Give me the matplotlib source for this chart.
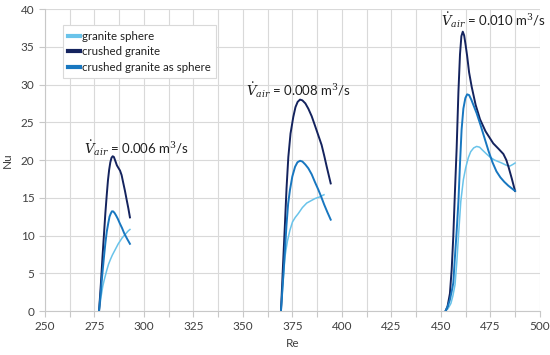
import numpy as np
import matplotlib
matplotlib.use("Agg")
import matplotlib.pyplot as plt

plt.rcParams['font.family'] = ['Lato', 'DejaVu Sans']
plt.rcParams['mathtext.fontset'] = 'dejavuserif'

# --- V_air = 0.006 m3/s
re1_cg = [277.3, 278.2, 279.0, 279.8, 280.5, 281.2, 281.8, 282.4, 283.0, 283.6, 284.2, 284.8,
          285.5, 286.3, 287.2, 287.9, 288.7, 289.5, 290.4, 291.2, 292.1, 292.9]
nu1_cg = [0.0, 3.5, 7.0, 10.2, 13.0, 15.4, 17.3, 18.7, 19.7, 20.3, 20.5, 20.4,
          19.9, 19.3, 18.9, 18.6, 18.0, 17.0, 15.9, 14.8, 13.6, 12.4]
re1_cgs = [277.3, 278.2, 279.0, 279.8, 280.5, 281.2, 282.0, 282.6, 283.2, 283.8, 284.4, 285.1,
           285.8, 286.8, 287.8, 288.9, 290.0, 291.4, 292.9]
nu1_cgs = [0.0, 2.6, 5.0, 7.2, 9.0, 10.5, 11.7, 12.5, 12.9, 13.2, 13.2, 13.0,
           12.7, 12.2, 11.6, 11.0, 10.3, 9.6, 8.9]
re1_gs = [277.3, 277.9, 278.5, 279.2, 280.0, 281.2, 282.1, 283.0, 284.0, 285.0, 286.0, 287.0,
          288.0, 289.0, 290.0, 291.0, 292.0, 292.9]
nu1_gs = [0.0, 1.1, 2.2, 3.3, 4.2, 5.4, 6.2, 6.8, 7.4, 7.9, 8.4, 8.9,
          9.3, 9.7, 10.0, 10.3, 10.6, 10.8]

# --- V_air = 0.008 m3/s
re2_cg = [369.2, 370.2, 371.2, 372.0, 372.9, 374.0, 375.4, 376.5, 377.6, 378.8, 380.0, 381.5,
          383.0, 384.7, 386.3, 388.0, 389.7, 391.0, 392.3, 393.3, 394.3]
nu2_cg = [0.1, 6.0, 11.6, 16.3, 20.4, 23.5, 25.7, 27.0, 27.7, 28.0, 27.9, 27.5,
          26.8, 25.8, 24.6, 23.3, 22.0, 20.6, 19.1, 18.0, 16.9]
re2_cgs = [369.2, 370.2, 371.2, 372.0, 372.8, 373.7, 374.9, 376.3, 377.5, 378.8, 380.0, 381.5,
           383.0, 384.7, 386.3, 388.0, 389.7, 391.0, 392.6, 394.3]
nu2_cgs = [0.1, 4.0, 8.1, 11.5, 14.2, 16.0, 17.8, 19.1, 19.7, 19.9, 19.8, 19.4,
           18.9, 18.1, 17.1, 16.1, 15.0, 14.1, 13.1, 12.1]
re2_gs = [369.2, 370.2, 371.2, 372.4, 373.7, 375.0, 376.4, 377.9, 380.0, 382.2, 384.3, 386.4,
          388.6, 390.9]
nu2_gs = [0.1, 3.8, 7.2, 9.2, 10.7, 11.8, 12.4, 12.9, 13.7, 14.3, 14.6, 14.9,
          15.1, 15.4]

# --- V_air = 0.010 m3/s
re3_cg = [452.3, 453.3, 454.5, 455.4, 456.2, 457.0, 457.9, 458.8, 459.6, 460.3, 461.0, 461.7,
          462.4, 463.2, 464.2, 465.5, 467.5, 469.7, 472.5, 476.4, 479.0, 481.5, 483.0, 484.2,
          485.8, 487.4]
nu3_cg = [0.0, 0.6, 2.3, 5.5, 9.8, 15.5, 21.5, 29.0, 34.0, 36.4, 37.0, 36.5,
          35.3, 33.8, 31.6, 29.7, 27.3, 25.4, 23.8, 22.2, 21.5, 20.8, 20.0, 19.0,
          17.5, 15.9]
re3_cgs = [452.3, 453.5, 454.5, 455.4, 456.2, 457.0, 457.9, 458.8, 459.6, 460.4, 461.3, 462.3,
           463.2, 464.2, 465.3, 466.5, 468.0, 470.0, 472.0, 474.0, 476.0, 478.0, 480.0, 482.0,
           484.0, 487.4]
nu3_cgs = [0.0, 0.7, 1.5, 2.6, 3.7, 7.0, 10.5, 14.5, 19.5, 24.0, 26.8, 28.2,
           28.7, 28.6, 28.0, 27.2, 26.2, 24.6, 22.9, 21.2, 19.7, 18.5, 17.7, 17.1,
           16.6, 15.9]
re3_gs = [452.3, 453.5, 455.0, 456.0, 457.1, 458.0, 458.8, 460.0, 461.3, 462.5, 463.8, 465.0,
          466.5, 468.0, 469.5, 471.0, 473.0, 474.7, 477.0, 480.7, 483.0, 484.8, 486.2, 487.4]
nu3_gs = [0.0, 0.3, 1.0, 2.0, 3.5, 6.5, 9.8, 14.5, 17.4, 19.0, 20.3, 21.1,
          21.6, 21.8, 21.7, 21.3, 20.8, 20.4, 20.0, 19.6, 19.3, 19.2, 19.4, 19.6]

c_gs = '#69C3EA'
c_cg = '#14235E'
c_cgs = '#1877C0'

fig = plt.figure(figsize=(5.5, 3.55), dpi=100)
ax = fig.add_axes([0.0818, 0.1239, 0.90, 0.8507])

for i, (re_gs, nu_gs, re_cg, nu_cg, re_cgs, nu_cgs) in enumerate([
        (re1_gs, nu1_gs, re1_cg, nu1_cg, re1_cgs, nu1_cgs),
        (re2_gs, nu2_gs, re2_cg, nu2_cg, re2_cgs, nu2_cgs),
        (re3_gs, nu3_gs, re3_cg, nu3_cg, re3_cgs, nu3_cgs)]):
    ax.plot(re_gs, nu_gs, color=c_gs, lw=1.1, label='granite sphere' if i == 0 else None, zorder=3)
    ax.plot(re_cg, nu_cg, color=c_cg, lw=1.4, label='crushed granite' if i == 0 else None, zorder=4)
    ax.plot(re_cgs, nu_cgs, color=c_cgs, lw=1.4, label='crushed granite as sphere' if i == 0 else None, zorder=5)

ax.text(269.7, 21.5, r'$\dot{V}_{air}$ = 0.006 m$^3$/s', ha='left', va='center', fontsize=9.5, color='#202020')
ax.text(351.5, 29.3, r'$\dot{V}_{air}$ = 0.008 m$^3$/s', ha='left', va='center', fontsize=9.5, color='#202020')
ax.text(450.0, 38.5, r'$\dot{V}_{air}$ = 0.010 m$^3$/s', ha='left', va='center', fontsize=9.5, color='#202020')

ax.set_xlim(250, 500)
ax.set_ylim(0, 40)
ax.set_xticks(np.arange(250, 501, 25))
ax.set_xticks(np.arange(250, 501, 12.5), minor=True)
ax.set_yticks(np.arange(0, 41, 5))
ax.grid(True, which='both', color='#D9D9D9', lw=0.8)
ax.set_axisbelow(True)
for s in ['top', 'right']:
    ax.spines[s].set_visible(False)
for s in ['left', 'bottom']:
    ax.spines[s].set_color('#C8C8C8')
    ax.spines[s].set_linewidth(0.8)
ax.tick_params(which='both', colors='#C8C8C8', labelcolor='#404040', labelsize=8.5, length=4, width=0.8)
ax.set_xlabel('Re', fontsize=8.5, color='#404040', labelpad=4)
ax.set_ylabel('Nu', fontsize=8.5, color='#404040', labelpad=6)

leg = ax.legend(loc='upper left', bbox_to_anchor=(0.025, 0.965), fontsize=8.3, handlelength=1.0,
                handletextpad=0.2, borderpad=0.45, labelspacing=0.4, fancybox=False, framealpha=1)
leg.get_frame().set_edgecolor('#D9D9D9')
leg.get_frame().set_linewidth(0.8)
for line in leg.get_lines():
    line.set_linewidth(3)
for t in leg.get_texts():
    t.set_color('#202020')

fig.savefig('out.png', dpi=100)
